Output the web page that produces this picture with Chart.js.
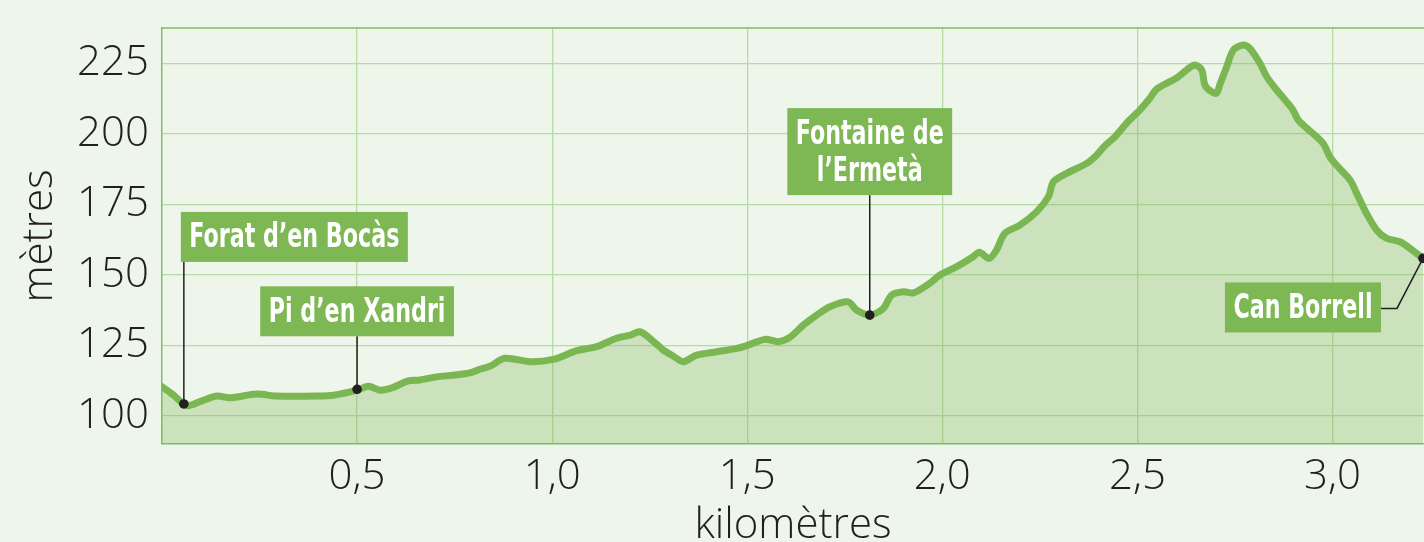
<!DOCTYPE html>
<html>
<head>
<meta charset="utf-8">
<script src="https://cdn.jsdelivr.net/npm/chart.js@4.4.1/dist/chart.umd.min.js"></script>
<style>
  html, body { margin: 0; padding: 0; background: #eef5ea; overflow: hidden; }
  #wrap { width: 1424px; height: 542px; position: relative; }
</style>
</head>
<body>
<div id="wrap"><canvas id="c" width="1424" height="542"></canvas></div>
<script>
// ---- data ----
const distanceKm = [0, 0.03, 0.063, 0.097, 0.14, 0.174, 0.243, 0.294, 0.396, 0.439, 0.5, 0.529, 0.559, 0.593, 0.631, 0.661, 0.704, 0.747, 0.789, 0.815, 0.841, 0.879, 0.943, 1.003, 1.063, 1.114, 1.165, 1.2, 1.225, 1.255, 1.285, 1.31, 1.336, 1.37, 1.422, 1.473, 1.503, 1.545, 1.58, 1.609, 1.644, 1.678, 1.712, 1.759, 1.78, 1.814, 1.849, 1.87, 1.9, 1.926, 1.968, 1.994, 2.037, 2.079, 2.095, 2.12, 2.139, 2.16, 2.199, 2.242, 2.272, 2.285, 2.319, 2.37, 2.396, 2.417, 2.443, 2.472, 2.506, 2.532, 2.549, 2.583, 2.6, 2.626, 2.647, 2.665, 2.673, 2.69, 2.703, 2.711, 2.729, 2.746, 2.771, 2.788, 2.814, 2.831, 2.857, 2.882, 2.899, 2.912, 2.934, 2.976, 2.993, 3.01, 3.045, 3.062, 3.087, 3.113, 3.139, 3.173, 3.207, 3.232];
const elevationM = [110.3, 107.3, 103.6, 105, 107, 106.4, 107.7, 107, 107, 107.3, 109.1, 110.5, 109.1, 110.1, 112.4, 112.7, 113.8, 114.4, 115.2, 116.5, 117.6, 120.4, 119.2, 120, 123.1, 124.5, 127.5, 128.6, 129.8, 126.9, 123.3, 121.2, 119.2, 121.5, 122.7, 123.9, 125.1, 127.1, 126.3, 127.8, 132.2, 135.7, 138.7, 140.4, 137.5, 135.7, 138.1, 142.8, 144, 143.6, 147, 149.9, 152.9, 156.4, 158, 155.8, 158.8, 164.7, 167.6, 172.4, 177.7, 183, 186, 189.5, 192.5, 195.8, 199, 203.7, 208.4, 212.6, 215.8, 218.5, 219.7, 222.6, 224.4, 222.6, 217.3, 214.9, 214.4, 217.3, 223.8, 229.7, 231.5, 230.3, 225, 220.3, 215.5, 211.4, 208.4, 204.9, 202, 196.6, 191.9, 188.9, 183.6, 178.9, 171.8, 165.9, 162.9, 161.7, 158.5, 155.8];

const xTickValues = [0.5, 1.0, 1.5, 2.0, 2.5, 3.0];
const xTickLabels = ["0,5", "1,0", "1,5", "2,0", "2,5", "3,0"];
const yTickValues = [100, 125, 150, 175, 200, 225];
const yTickLabels = ["100", "125", "150", "175", "200", "225"];

const placeNames = [["Forat d’en Bocàs"], ["Pi d’en Xandri"], ["Fontaine de", "l’Ermetà"], ["Can Borrell"]];
const placeKm = [0.056, 0.5, 1.814, 3.232];
const placeElev = [104.2, 109.4, 135.7, 155.8];

const xTitle = "kilomètres";
const yTitle = "mètres";

// ---- styles ----
const C = {
  line: '#7ab752',
  fill: 'rgba(122,183,82,0.30)',
  grid: '#b8daa4',
  axis: '#82bb62',
  text: '#231f20',
  box: '#7db855'
};
const labelLayout = [
  { mode: 'leftOfDot', dx: -3, top: -192 },
  { mode: 'center', top: -103 },
  { mode: 'center', top: -207 },
  { mode: 'elbow', rightGap: 42, top: 24, elbowX: 26 }
];

const annotPlugin = {
  id: 'annot',
  afterDatasetsDraw(chart) {
    const ctx = chart.ctx;
    const xs = chart.scales.x, ys = chart.scales.y;
    const ca = chart.chartArea;
    ctx.save();
    ctx.strokeStyle = C.axis;
    ctx.lineWidth = 1.5;
    ctx.beginPath();
    ctx.moveTo(ca.left, ca.top);
    ctx.lineTo(ca.right, ca.top);
    ctx.stroke();
    ctx.restore();

    ctx.save();
    ctx.font = 'bold 34px "Liberation Sans Narrow", "DejaVu Sans Condensed", "DejaVu Sans", sans-serif';
    const refW = ctx.measureText("Forat d’en Bocàs").width;
    const s = 210 / refW;
    placeNames.forEach((lines, i) => {
      const px = xs.getPixelForValue(placeKm[i]);
      const py = ys.getPixelForValue(placeElev[i]);
      const L = labelLayout[i];
      const textW = Math.max(...lines.map(t => ctx.measureText(t).width * s));
      const bw = textW + 17;
      const bh = 50 + 37 * (lines.length - 1);
      let bx;
      if (L.mode === 'leftOfDot') bx = px + L.dx;
      else if (L.mode === 'center') bx = px - bw / 2;
      else bx = px - L.rightGap - bw;
      const by = py + L.top;

      ctx.strokeStyle = C.text;
      ctx.lineWidth = 1.5;
      ctx.beginPath();
      if (L.mode === 'elbow') {
        const ly = by + 26;
        ctx.moveTo(bx + bw, ly);
        ctx.lineTo(px - L.elbowX, ly);
        ctx.lineTo(px, py);
      } else {
        ctx.moveTo(px, by + bh);
        ctx.lineTo(px, py);
      }
      ctx.stroke();

      ctx.fillStyle = C.box;
      ctx.fillRect(bx, by, bw, bh);

      ctx.fillStyle = '#ffffff';
      ctx.textBaseline = 'alphabetic';
      ctx.textAlign = 'left';
      lines.forEach((t, k) => {
        const w = ctx.measureText(t).width * s;
        const tx = bx + (bw - w) / 2;
        const ty = by + 35.5 + 37 * k;
        ctx.save();
        ctx.translate(tx, ty);
        ctx.scale(s, 1);
        ctx.fillText(t, 0, 0);
        ctx.restore();
      });

      ctx.fillStyle = C.text;
      ctx.beginPath();
      ctx.arc(px, py, 4.8, 0, Math.PI * 2);
      ctx.fill();
    });
    ctx.restore();
  }
};

function draw() {
  const pts = distanceKm.map((x, i) => ({ x: x, y: elevationM[i] }));
  new Chart(document.getElementById('c'), {
    type: 'line',
    data: {
      datasets: [{
        data: pts,
        borderColor: C.line,
        backgroundColor: C.fill,
        borderWidth: 7,
        fill: 'start',
        pointRadius: 0,
        tension: 0.3,
        borderJoinStyle: 'round',
        borderCapStyle: 'round'
      }]
    },
    options: {
      responsive: false,
      animation: false,
      events: [],
      layout: { padding: { top: 28, right: 0, left: 0, bottom: 0 } },
      plugins: { legend: { display: false }, tooltip: { enabled: false } },
      scales: {
        x: {
          type: 'linear',
          min: 0,
          max: 3.2346,
          afterBuildTicks: sc => { sc.ticks = xTickValues.map(v => ({ value: v })); },
          afterFit: sc => { sc.height = 98; sc.paddingLeft = 0; sc.paddingRight = 0; },
          ticks: {
            callback: (v) => { const i = xTickValues.indexOf(v); return i >= 0 ? xTickLabels[i] : ''; },
            font: { family: '"Open Sans"', size: 42, weight: '300' },
            color: C.text,
            padding: 8,
            maxRotation: 0,
            autoSkip: false
          },
          grid: { color: C.grid, lineWidth: 1.3, drawTicks: false },
          border: { display: true, color: C.axis, width: 1.5 },
          title: {
            display: true,
            text: xTitle,
            font: { family: '"Open Sans"', size: 42, weight: '300', lineHeight: 0.76 },
            color: C.text,
            padding: { top: 0, bottom: 0 }
          }
        },
        y: {
          type: 'linear',
          min: 90,
          max: 237.5,
          afterBuildTicks: sc => { sc.ticks = yTickValues.map(v => ({ value: v })); },
          afterFit: sc => { sc.width = 162; sc.paddingTop = 0; sc.paddingBottom = 0; },
          ticks: {
            callback: (v) => { const i = yTickValues.indexOf(v); return i >= 0 ? yTickLabels[i] : ''; },
            font: { family: '"Open Sans"', size: 42, weight: '300' },
            color: C.text,
            padding: 13,
            autoSkip: false
          },
          grid: { color: C.grid, lineWidth: 1.3, drawTicks: false },
          border: { display: true, color: C.axis, width: 1.5 },
          title: {
            display: true,
            text: yTitle,
            font: { family: '"Open Sans"', size: 42, weight: '300', lineHeight: 1.2 },
            color: C.text,
            padding: { top: 15, bottom: 0 }
          }
        }
      }
    },
    plugins: [annotPlugin]
  });
}

Promise.all([
  document.fonts.load('300 42px "Open Sans"'),
  document.fonts.load('bold 34px "Liberation Sans Narrow"'),
  document.fonts.load('bold 34px "DejaVu Sans Condensed"')
]).then(draw, draw);
</script>
</body>
</html>
